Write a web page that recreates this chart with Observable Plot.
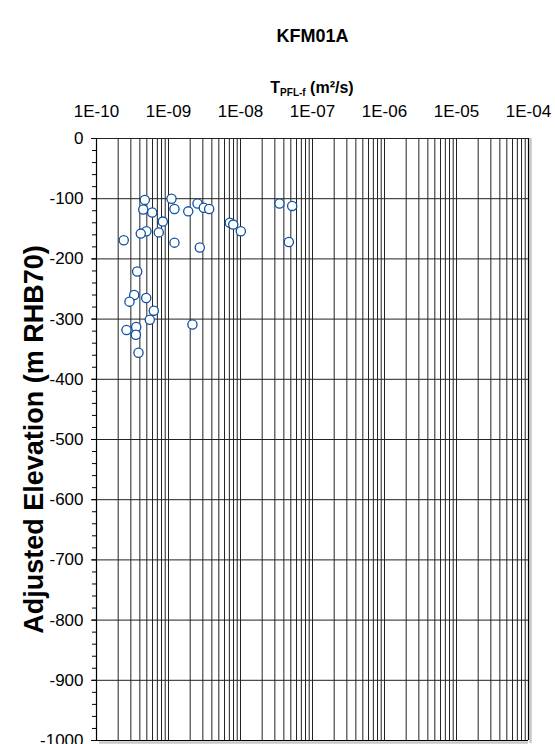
<!DOCTYPE html>
<html><head><meta charset="utf-8">
<script src="https://cdn.jsdelivr.net/npm/d3@7"></script>
<script src="https://cdn.jsdelivr.net/npm/@observablehq/plot@0.6"></script>
<style>body{margin:0;background:#fff;}</style>
</head><body><div id="chart"></div>
<script>
const chartTitle = "KFM01A";
const yLabel = "Adjusted Elevation (m RHB70)";
const xLabelMain = "T";
const xLabelSub = "PFL-f";
const xLabelUnit = " (m²/s)";

// Transmissivity T_PFL-f (m2/s)
const transmissivity = [
  4.69e-10, 1.10e-9, 4.46e-10, 5.94e-10, 1.21e-9, 1.88e-9, 2.53e-9, 3.09e-9, 3.67e-9,
  8.34e-10, 7.10e-9, 7.93e-9, 1.01e-8, 4.94e-10, 4.12e-10, 7.33e-10, 2.39e-10, 1.21e-9,
  2.72e-9, 3.67e-10, 3.34e-10, 2.87e-10, 4.90e-10, 6.25e-10, 5.50e-10, 2.15e-9, 2.61e-10,
  3.56e-10, 3.52e-10, 3.83e-10, 3.48e-8, 5.22e-8, 4.69e-8
];
// Adjusted elevation (m RHB70)
const elevation = [
  -102, -100, -118, -123, -117, -121, -108, -115, -117,
  -138, -140, -143, -154, -154, -158, -156, -169, -173,
  -181, -221, -260, -271, -265, -286, -301, -309, -318,
  -313, -326, -356, -108, -112, -172
];
const xTicks = [1e-10, 1e-9, 1e-8, 1e-7, 1e-6, 1e-5, 1e-4];
const yTicks = [0, -100, -200, -300, -400, -500, -600, -700, -800, -900, -1000];
const yMinorTicks = d3.range(0, -1001, -20);

const data = transmissivity.map((t, i) => ({t, z: elevation[i]}));
const xGrid = d3.scaleLog().domain([xTicks[0], xTicks[xTicks.length - 1]]).ticks();
const fmt = d => {
  const e = Math.round(Math.log10(d));
  return "1E" + (e < 0 ? "-" : "+") + String(Math.abs(e)).padStart(2, "0");
};
const xMin = xTicks[0], xMax = xTicks[xTicks.length - 1];
const yMin = yTicks[yTicks.length - 1], yMax = yTicks[0];

const plot = Plot.plot({
  width: 555, height: 744,
  marginLeft: 96, marginRight: 27, marginTop: 138, marginBottom: 4,
  style: {fontFamily: "'Liberation Sans', Arial, sans-serif", background: "#fff", color: "#000", overflow: "visible"},
  x: {type: "log", domain: [xMin, xMax]},
  y: {domain: [yMin, yMax]},
  marks: [
    Plot.ruleX(xGrid, {stroke: "#222", strokeWidth: 1}),
    Plot.ruleY(yTicks, {stroke: "#222", strokeWidth: 1}),
    // shadow of plot area border
    Plot.ruleX([xMax], {dx: 2, stroke: "#c8c8c8", strokeWidth: 2.5, y1: yMin, y2: yMax, insetTop: 3}),
    Plot.ruleY([yMin], {dy: 2, stroke: "#c8c8c8", strokeWidth: 2.5, x1: xMin, x2: xMax, insetLeft: 3}),
    Plot.ruleX([xMin, xMax], {stroke: "#000", strokeWidth: 1.2}),
    Plot.ruleY([yMin], {stroke: "#000", strokeWidth: 1.2}),
    Plot.axisY(yMinorTicks, {anchor: "left", tickSize: 4, tickFormat: () => "", label: null}),
    Plot.axisY(yTicks, {anchor: "left", tickSize: 5, tickPadding: 8, fontSize: 17, tickFormat: d => String(d), label: null}),
    Plot.axisX(xTicks, {anchor: "top", tickSize: 0, tickPadding: 22, fontSize: 17, tickFormat: fmt, label: null}),
    Plot.dot(data, {x: "t", y: "z", r: 4.6, stroke: "#0d52a5", strokeWidth: 1.3, fill: "#fff"}),
    Plot.text([chartTitle], {frameAnchor: "top", dy: -109, fontSize: 18, fontWeight: "bold"}),
    Plot.text([yLabel], {frameAnchor: "left", textAnchor: "middle", dx: -62, rotate: -90, fontSize: 27, fontWeight: "bold"})
  ]
});

const svg = d3.select(plot);
const xl = svg.append("text")
  .attr("x", 312).attr("y", 93)
  .attr("text-anchor", "middle")
  .attr("font-weight", "bold")
  .attr("font-size", 16)
  .attr("font-family", "'Liberation Sans', Arial, sans-serif");
xl.append("tspan").text(xLabelMain);
xl.append("tspan").attr("font-size", 10).attr("dy", 3).text(xLabelSub);
xl.append("tspan").attr("dy", -3).text(xLabelUnit);

document.getElementById("chart").append(plot);
</script>
</body></html>
